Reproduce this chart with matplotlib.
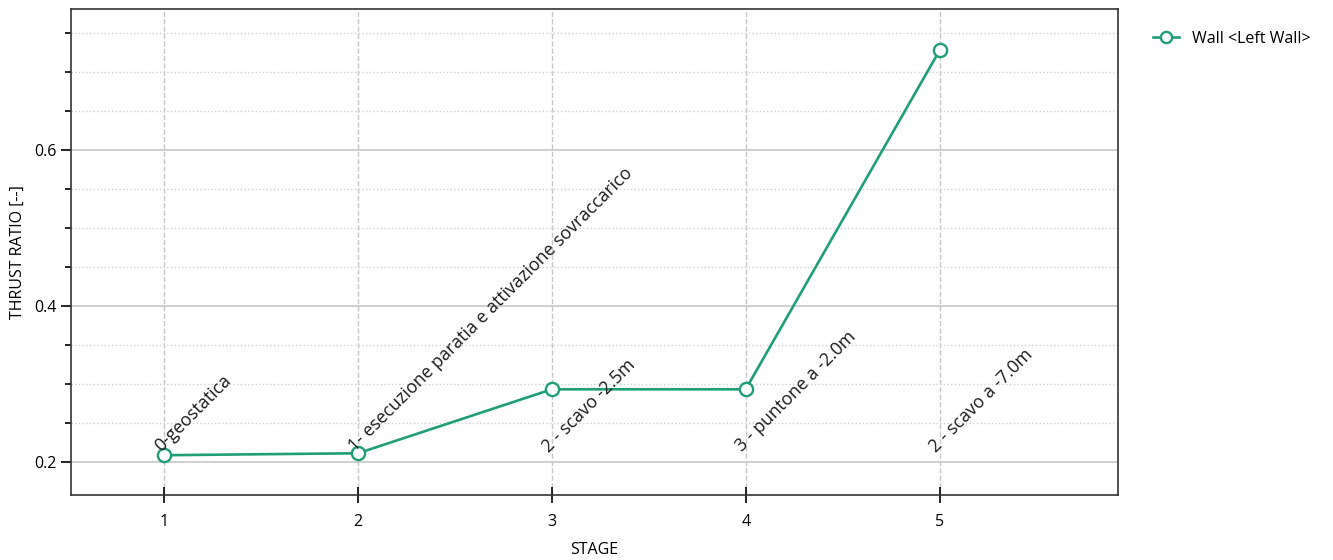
import numpy as np
import matplotlib.pyplot as plt
from matplotlib.ticker import MultipleLocator

plt.rcParams['font.family'] = ['Open Sans', 'DejaVu Sans']

stages = [1, 2, 3, 4, 5]
thrust_ratio = [0.209, 0.2115, 0.2935, 0.2935, 0.728]
stage_names = ['0-geostatica',
               '1- esecuzione paratia e attivazione sovraccarico',
               '2 - scavo -2.5m',
               '3 - puntone a -2.0m',
               '2 - scavo a -7.0m']
series_label = 'Wall <Left Wall>'
color = '#1f9e77'

fig = plt.figure(figsize=(13.33, 5.6), dpi=100)
ax = fig.add_axes([71 / 1333, 1 - 495 / 560, (1118 - 71) / 1333, (495 - 9) / 560])

ax.plot(stages, thrust_ratio,
        color=color,
        linewidth=1.9,
        marker='o',
        markersize=9.5,
        markerfacecolor='white',
        markeredgewidth=1.7,
        label=series_label,
        zorder=3)

for s, name in zip(stages, stage_names):
    ax.text(s - 0.035, 0.217, name,
            rotation=45,
            rotation_mode='anchor',
            ha='left', va='center',
            fontsize=12.8,
            color='#1a1a1a',
            zorder=4)

ax.set_xlim(0.52, 5.92)
ax.set_ylim(0.158, 0.781)
ax.set_xticks(stages)
ax.yaxis.set_major_locator(MultipleLocator(0.2))
ax.yaxis.set_minor_locator(MultipleLocator(0.05))

ax.grid(True, which='major', axis='x', color='#c8c8c8', linestyle='--', linewidth=1)
ax.grid(True, which='major', axis='y', color='#c8c8c8', linestyle='-', linewidth=1.2)
ax.grid(True, which='minor', axis='y', color='#d0d0d0', linestyle=':', linewidth=1)
ax.set_axisbelow(True)

ax.tick_params(axis='x', which='major', direction='inout', length=12, width=1.2, labelsize=11.5, pad=8)
ax.tick_params(axis='y', which='major', direction='out', length=7, width=1.2, labelsize=11.5)
ax.tick_params(axis='y', which='minor', direction='out', length=4, width=1.2)
ax.tick_params(axis='x', which='minor', bottom=False)

for sp in ax.spines.values():
    sp.set_color('#333333')
    sp.set_linewidth(1.2)

ax.set_xlabel('STAGE', fontsize=11.5, labelpad=8)
ax.set_ylabel('THRUST RATIO [--]', fontsize=11.5, labelpad=6)

ax.legend(loc='upper left', bbox_to_anchor=(1.02, 0.985), frameon=False,
          fontsize=11.5, handlelength=1.6, markerscale=0.85)

fig.savefig('out.png', dpi=100)
